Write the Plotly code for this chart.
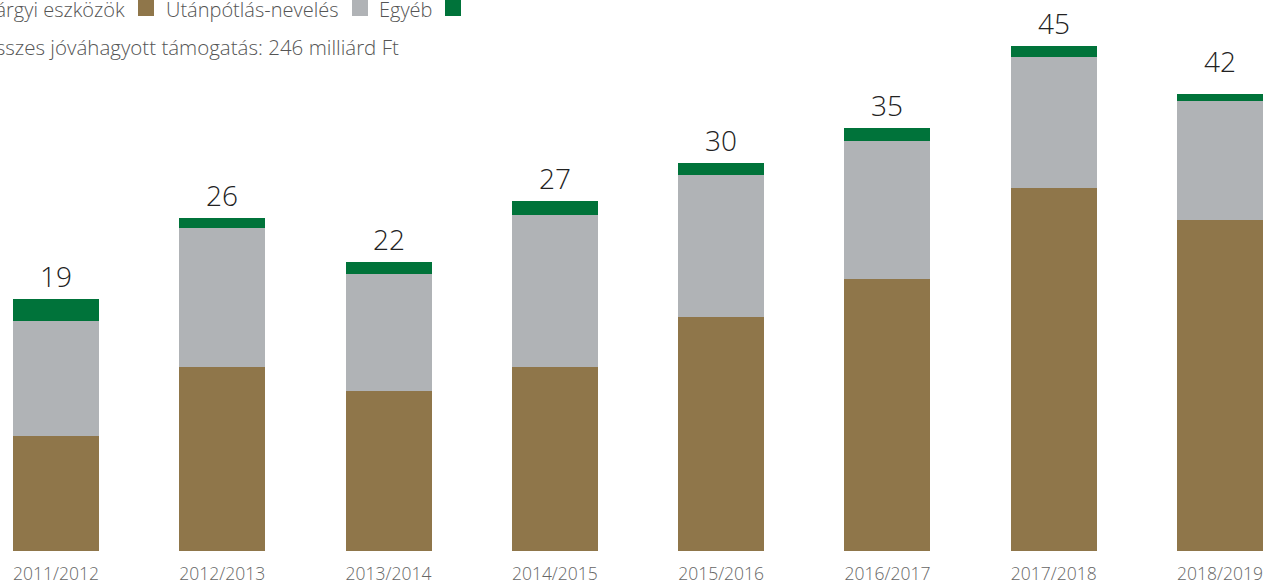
import plotly.graph_objects as go

# ---- data ----
categories = ["2011/2012", "2012/2013", "2013/2014", "2014/2015",
              "2015/2016", "2016/2017", "2017/2018", "2018/2019"]
targyi = [8.85, 14.15, 12.31, 14.15, 18.00, 20.92, 27.92, 25.46]
utanpotlas = [8.85, 10.69, 9.00, 11.69, 10.92, 10.62, 10.08, 9.15]
egyeb = [1.69, 0.77, 0.92, 1.08, 0.92, 1.00, 0.85, 0.54]
total_labels = ["19", "26", "22", "27", "30", "35", "45", "42"]
series_names = ["Tárgyi eszközök", "Utánpótlás-nevelés", "Egyéb"]
subtitle = "Összes jóváhagyott támogatás: 246 milliárd Ft"

# ---- style ----
W, H = 1265, 584
PLOT_H = 551
colors = ["#8F764A", "#B0B3B6", "#00733A"]
FONT = "Open Sans"
label_shift = [0, 0, 0, 0, 0, 0, 0, 10]

fig = go.Figure()
for name, vals, col in zip(series_names, [targyi, utanpotlas, egyeb], colors):
    fig.add_trace(go.Bar(x=categories, y=vals, name=name, marker_color=col,
                         marker_line_width=0, showlegend=False, hoverinfo="skip"))

totals = [a + b + c for a, b, c in zip(targyi, utanpotlas, egyeb)]
for cat, t, lab, sh in zip(categories, totals, total_labels, label_shift):
    fig.add_annotation(x=cat, y=t, text=lab, showarrow=False, xref="x", yref="y",
                       yanchor="bottom", yshift=2 + sh,
                       font=dict(family=FONT, size=28, color="#222222", weight=300))

# manual legend: text followed by a square
def px(x):
    return x / W

def py(y):
    return (PLOT_H - y) / PLOT_H

leg_font = dict(family=FONT, size=20, color="#555555", weight=300)
sub_font = dict(family=FONT, size=20.5, color="#555555", weight=300)
fig.add_annotation(x=px(127), y=py(10), xref="paper", yref="paper", text=series_names[0],
                   showarrow=False, xanchor="right", yanchor="middle", font=leg_font)
fig.add_annotation(x=px(164), y=py(10), xref="paper", yref="paper", text=series_names[1],
                   showarrow=False, xanchor="left", yanchor="middle", font=leg_font)
fig.add_annotation(x=px(377), y=py(10), xref="paper", yref="paper", text=series_names[2],
                   showarrow=False, xanchor="left", yanchor="middle", font=leg_font)
for x0, col in zip([138, 352, 445], colors):
    fig.add_shape(type="rect", xref="paper", yref="paper",
                  x0=px(x0), x1=px(x0 + 16), y0=py(16), y1=py(0),
                  fillcolor=col, line_width=0)
fig.add_annotation(x=px(401), y=py(47), xref="paper", yref="paper", text=subtitle,
                   showarrow=False, xanchor="right", yanchor="middle", font=sub_font)

fig.update_layout(
    width=W, height=H,
    margin=dict(l=0, r=0, t=0, b=H - PLOT_H, pad=0),
    barmode="stack", bargap=0.483,
    plot_bgcolor="white", paper_bgcolor="white",
    xaxis=dict(range=[-0.3367, 7.2706], showgrid=False, showline=False, zeroline=False,
               ticks="", ticklabelstandoff=10,
               tickfont=dict(family=FONT, size=17.5, color="#666666", weight=300)),
    yaxis=dict(range=[0, PLOT_H / 13], visible=False),
)

fig.write_html("out.html", config={"displayModeBar": False},
               post_script="document.body.style.margin='0';document.body.style.overflow='hidden';")
